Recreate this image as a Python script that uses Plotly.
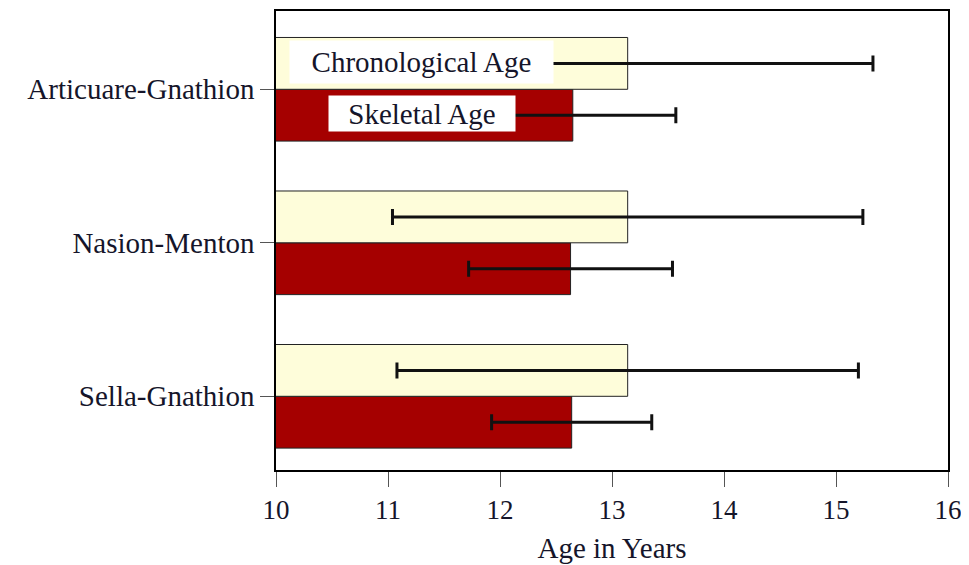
import plotly.graph_objects as go

categories = ["Sella-Gnathion", "Nasion-Menton", "Articuare-Gnathion"]
chron_age = [13.14, 13.14, 13.14]
chron_err = [2.06, 2.10, 2.19]
skel_age = [12.64, 12.63, 12.65]
skel_err = [0.715, 0.91, 0.92]
x_ticks = [10, 11, 12, 13, 14, 15, 16]

FONT = "Liberation Serif"
TXT = "#15152a"

fig = go.Figure()
fig.add_trace(go.Bar(
    name="Skeletal Age", y=categories, x=skel_age, orientation="h",
    marker=dict(color="#A50000", line=dict(color="#222222", width=1)),
    error_x=dict(type="data", array=skel_err, visible=True, color="#111111", thickness=3, width=8),
))
fig.add_trace(go.Bar(
    name="Chronological Age", y=categories, x=chron_age, orientation="h",
    marker=dict(color="#FEFDDA", line=dict(color="#222222", width=1)),
    error_x=dict(type="data", array=chron_err, visible=True, color="#111111", thickness=3, width=8),
))

fig.add_annotation(x=11.3, y=2.175, xref="x", yref="y", text="Chronological Age", showarrow=False,
                   bgcolor="white", font=dict(family=FONT, size=29, color=TXT),
                   borderpad=2, width=259, height=38)
fig.add_annotation(x=11.3, y=1.84, xref="x", yref="y", text="Skeletal Age", showarrow=False,
                   bgcolor="white", font=dict(family=FONT, size=29, color=TXT),
                   borderpad=1, width=184, height=33)

# page body has an 8px margin; compensate so the plot lands where the reference has it
fig.update_layout(
    width=961, height=557,
    margin=dict(l=268, r=21, t=1, b=95),
    barmode="group", bargap=0.325, bargroupgap=0,
    showlegend=False,
    plot_bgcolor="white", paper_bgcolor="white",
    font=dict(family=FONT, size=28, color=TXT),
)
fig.update_xaxes(
    range=[10, 16], tickvals=x_ticks, ticktext=[str(v) for v in x_ticks],
    tickfont=dict(family=FONT, size=27, color=TXT),
    showgrid=False, zeroline=False, showline=True, linecolor="black", linewidth=1.5, mirror=True,
    ticks="outside", ticklen=15, tickcolor="#555555", tickwidth=1,
    title=dict(text="Age in Years", font=dict(family=FONT, size=29, color=TXT), standoff=14),
)
fig.update_yaxes(
    range=[-0.48, 2.51],
    tickfont=dict(family=FONT, size=29, color=TXT),
    showgrid=False, zeroline=False, showline=True, linecolor="black", linewidth=1.5, mirror=True,
    ticks="outside", ticklen=14, tickcolor="#555555", tickwidth=1,
)

fig.write_html("out.html")
